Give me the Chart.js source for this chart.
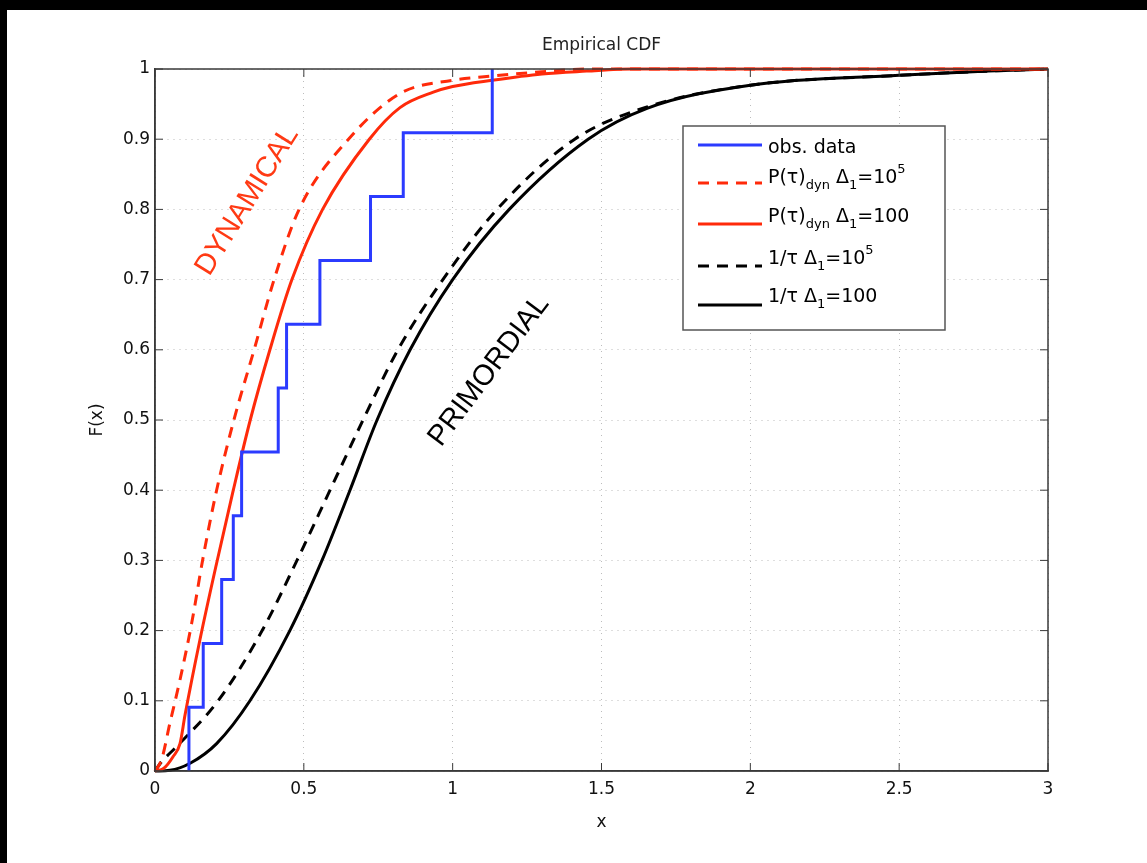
<!DOCTYPE html>
<html>
<head>
<meta charset="utf-8">
<script src="https://cdn.jsdelivr.net/npm/chart.js@4.4.1/dist/chart.umd.min.js"></script>
<style>
html, body { margin: 0; padding: 0; background: #fff; }
#wrap { position: relative; width: 1147px; height: 863px; background: #fff; overflow: hidden; }
#cdf { position: absolute; left: 0; top: 0; }
.bar { position: absolute; background: #000; }
</style>
</head>
<body>
<div id="wrap">
  <canvas id="cdf" width="1147" height="863"></canvas>
  <div class="bar" style="left:0;top:0;width:1147px;height:10px"></div>
  <div class="bar" style="left:0;top:0;width:7px;height:863px"></div>
</div>
<script>
// tick labels
const xTicks = [0, 0.5, 1, 1.5, 2, 2.5, 3];
const yTicks = [0, 0.1, 0.2, 0.3, 0.4, 0.5, 0.6, 0.7, 0.8, 0.9, 1];

// observed data (empirical CDF, 11 objects)
const obsX = [0.114, 0.114, 0.162, 0.224, 0.263, 0.291, 0.414, 0.442, 0.554, 0.724, 0.834, 1.133];
const obsF = [0, 0.0909, 0.1818, 0.2727, 0.3636, 0.4545, 0.5455, 0.6364, 0.7273, 0.8182, 0.9091, 1];

// P(tau)_dyn, Delta_1 = 1e5
const dynHiX = [0, 0.022, 0.05, 0.084, 0.123, 0.162, 0.207, 0.265, 0.333, 0.40, 0.484, 0.65, 0.823, 1.0, 1.133, 1.3, 1.45, 3];
const dynHiY = [0, 0.016, 0.068, 0.13, 0.21, 0.305, 0.40, 0.5, 0.6, 0.7, 0.8, 0.9, 0.965, 0.984, 0.99, 0.996, 1, 1];

// P(tau)_dyn, Delta_1 = 100
const dynLoX = [0, 0.03, 0.06, 0.084, 0.101, 0.151, 0.207, 0.263, 0.32, 0.386, 0.46, 0.563, 0.72, 0.823, 0.935, 1.0, 1.133, 1.3, 1.45, 1.6, 3];
const dynLoY = [0, 0.004, 0.02, 0.039, 0.08, 0.187, 0.296, 0.40, 0.5, 0.6, 0.7, 0.8, 0.9, 0.945, 0.967, 0.975, 0.984, 0.993, 0.997, 1, 1];

// 1/tau, Delta_1 = 1e5
const primHiX = [0, 0.02, 0.073, 0.212, 0.36, 0.477, 0.588, 0.699, 0.816, 0.967, 1.149, 1.41, 1.653, 2, 2.5, 2.8, 3];
const primHiY = [0, 0.012, 0.035, 0.1, 0.2, 0.3, 0.4, 0.5, 0.6, 0.7, 0.8, 0.9, 0.946, 0.977, 0.991, 0.997, 1];

// 1/tau, Delta_1 = 100
const primLoX = [0, 0.05, 0.118, 0.207, 0.319, 0.453, 0.561, 0.655, 0.746, 0.857, 1.0, 1.19, 1.455, 1.653, 2, 2.5, 2.8, 3];
const primLoY = [0, 0.001, 0.011, 0.039, 0.1, 0.2, 0.3, 0.4, 0.5, 0.6, 0.7, 0.8, 0.9, 0.944, 0.977, 0.991, 0.997, 1];

const FONT = "'DejaVu Sans', Verdana, sans-serif";
const ANNOT_FONT = "'Liberation Sans', Helvetica, Arial, sans-serif";
const BLUE = '#2b3bff';
const RED = '#ff2a0a';
const BLACK = '#000000';

const pts = (xs, ys) => xs.map((x, i) => ({ x: x, y: ys[i] }));

// legend rows: pieces of text, with 0 = normal, -1 = subscript, 1 = superscript
const legendRows = [
    { color: BLUE, dash: [], parts: [['obs. data', 0]] },
    { color: RED, dash: [11, 8], parts: [['P(τ)', 0], ['dyn', -1], [' Δ', 0], ['1', -1], ['=10', 0], ['5', 1]] },
    { color: RED, dash: [], parts: [['P(τ)', 0], ['dyn', -1], [' Δ', 0], ['1', -1], ['=100', 0]] },
    { color: BLACK, dash: [11, 8], parts: [['1/τ Δ', 0], ['1', -1], ['=10', 0], ['5', 1]] },
    { color: BLACK, dash: [], parts: [['1/τ Δ', 0], ['1', -1], ['=100', 0]] }
];

const decor = {
    id: 'decor',
    afterDatasetsDraw(chart) {
        const ctx = chart.ctx;
        const ca = chart.chartArea;
        const sx = chart.scales.x, sy = chart.scales.y;
        ctx.save();

        // title
        ctx.fillStyle = '#222';
        ctx.font = '17px ' + FONT;
        ctx.textAlign = 'center';
        ctx.textBaseline = 'middle';
        ctx.fillText('Empirical CDF', (ca.left + ca.right) / 2, 46);

        // axes box
        ctx.strokeStyle = '#3a3a3a';
        ctx.lineWidth = 1.5;
        ctx.setLineDash([]);
        ctx.strokeRect(ca.left, ca.top, ca.right - ca.left, ca.bottom - ca.top);

        // inward ticks on all sides
        ctx.lineWidth = 1;
        ctx.beginPath();
        xTicks.forEach(v => {
            const px = sx.getPixelForValue(v);
            ctx.moveTo(px, ca.bottom); ctx.lineTo(px, ca.bottom - 8);
            ctx.moveTo(px, ca.top); ctx.lineTo(px, ca.top + 8);
        });
        yTicks.forEach(v => {
            const py = sy.getPixelForValue(v);
            ctx.moveTo(ca.left, py); ctx.lineTo(ca.left + 8, py);
            ctx.moveTo(ca.right, py); ctx.lineTo(ca.right - 8, py);
        });
        ctx.stroke();

        // annotations
        ctx.font = '29px ' + ANNOT_FONT;
        ctx.fillStyle = '#ff3a14';
        ctx.save();
        ctx.translate(sx.getPixelForValue(0.31), sy.getPixelForValue(0.812));
        ctx.rotate(-58 * Math.PI / 180);
        ctx.fillText('DYNAMICAL', 0, 0);
        ctx.restore();
        ctx.fillStyle = '#000';
        ctx.save();
        ctx.translate(sx.getPixelForValue(1.122), sy.getPixelForValue(0.57));
        ctx.rotate(-53 * Math.PI / 180);
        ctx.fillText('PRIMORDIAL', 0, 0);
        ctx.restore();

        // legend box
        const lx = ca.left + 528, ly = ca.top + 57, lw = 262, lh = 204;
        ctx.fillStyle = '#fff';
        ctx.fillRect(lx, ly, lw, lh);
        ctx.strokeStyle = '#555';
        ctx.lineWidth = 1.5;
        ctx.strokeRect(lx, ly, lw, lh);

        const lineY = [19, 57, 98, 140, 179];
        const textY = [22, 52, 91, 133, 171];
        legendRows.forEach((row, i) => {
            const y = ly + lineY[i];
            ctx.strokeStyle = row.color;
            ctx.lineWidth = 3;
            ctx.setLineDash(row.dash);
            ctx.beginPath();
            ctx.moveTo(lx + 15, y);
            ctx.lineTo(lx + 79, y);
            ctx.stroke();
            ctx.setLineDash([]);

            let tx = lx + 85;
            const ty = ly + textY[i];
            ctx.fillStyle = '#000';
            ctx.textAlign = 'left';
            ctx.textBaseline = 'middle';
            row.parts.forEach(([txt, kind]) => {
                ctx.font = (kind === 0 ? '19px ' : '13px ') + FONT;
                const dy = kind === -1 ? 8 : (kind === 1 ? -8 : 0);
                ctx.fillText(txt, tx, ty + dy);
                tx += ctx.measureText(txt).width;
            });
        });

        ctx.restore();
    }
};

const lineSet = (label, data, color, dash) => ({
    label: label,
    data: data,
    borderColor: color,
    borderWidth: 3,
    borderDash: dash,
    pointRadius: 0,
    fill: false,
    cubicInterpolationMode: 'monotone',
    clip: 3
});

new Chart(document.getElementById('cdf'), {
    type: 'line',
    data: {
        datasets: [
            Object.assign(lineSet('obs. data', pts(obsX, obsF), BLUE, []), { stepped: 'before', cubicInterpolationMode: 'default' }),
            lineSet('P dyn 1e5', pts(dynHiX, dynHiY), RED, [11, 8]),
            lineSet('P dyn 100', pts(dynLoX, dynLoY), RED, []),
            lineSet('1/tau 1e5', pts(primHiX, primHiY), BLACK, [11, 8]),
            lineSet('1/tau 100', pts(primLoX, primLoY), BLACK, [])
        ]
    },
    options: {
        responsive: false,
        animation: false,
        layout: { padding: { left: 0, right: 99, top: 69, bottom: 0 } },
        plugins: {
            legend: { display: false },
            tooltip: { enabled: false },
            title: { display: false }
        },
        scales: {
            x: {
                type: 'linear',
                min: 0,
                max: 3,
                afterBuildTicks: s => { s.ticks = xTicks.map(v => ({ value: v })); },
                afterFit: s => { s.height = 92; },
                ticks: {
                    color: '#111',
                    padding: 8,
                    maxRotation: 0,
                    font: { family: FONT, size: 17 },
                    callback: v => String(+v.toFixed(2))
                },
                grid: { color: '#bdbdbd', lineWidth: 1, drawTicks: false },
                border: { display: true, color: '#3a3a3a', width: 1.5, dash: [1, 5] },
                title: {
                    display: true, text: 'x', color: '#111',
                    font: { family: FONT, size: 17, lineHeight: 1.2 },
                    padding: { top: 4, bottom: 30 }
                }
            },
            y: {
                type: 'linear',
                min: 0,
                max: 1,
                afterBuildTicks: s => { s.ticks = yTicks.map(v => ({ value: v })); },
                afterFit: s => { s.width = 155; },
                ticks: {
                    color: '#111',
                    padding: 5,
                    font: { family: FONT, size: 17 },
                    callback: v => String(+v.toFixed(2))
                },
                grid: { color: '#bdbdbd', lineWidth: 1, drawTicks: false },
                border: { display: true, color: '#3a3a3a', width: 1.5, dash: [1, 5] },
                title: {
                    display: true, text: 'F(x)', color: '#111',
                    font: { family: FONT, size: 17, lineHeight: 1.2 },
                    padding: { top: 87, bottom: 0 }
                }
            }
        }
    },
    plugins: [decor]
});
</script>
</body>
</html>
